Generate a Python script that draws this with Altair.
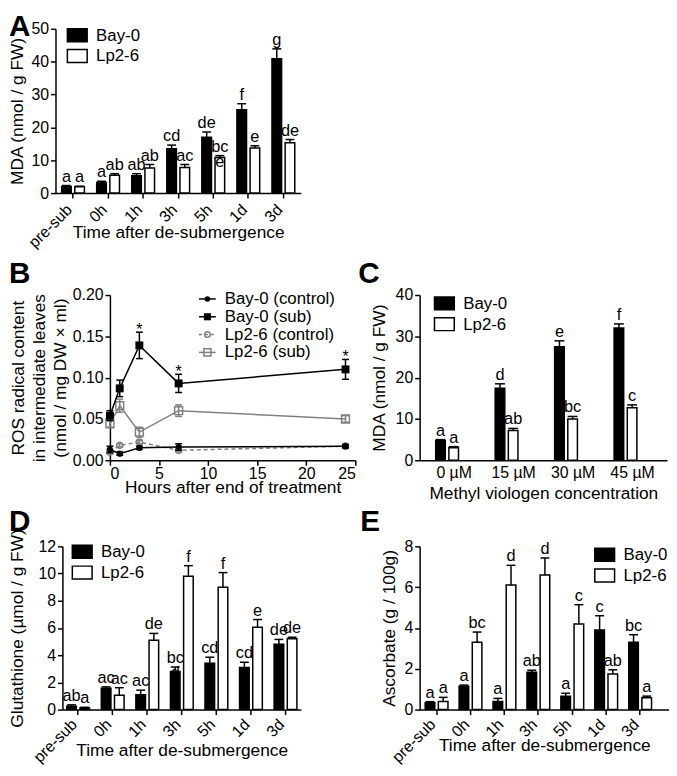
import altair as alt
import pandas as pd

FONT = "Liberation Sans"
GRAY = "#808080"
GENOS = ["Bay-0", "Lp2-6"]

# ---------------- Panel A : MDA after de-submergence ----------------
times = ["pre-sub", "0h", "1h", "3h", "5h", "1d", "3d"]
a_bay = [2.0, 3.2, 5.3, 13.5, 17.0, 25.4, 40.9]
a_bay_err = [0.3, 0.4, 0.6, 1.1, 1.6, 1.8, 3.0]
a_lp = [1.9, 5.4, 7.6, 7.8, 10.8, 13.7, 15.3]
a_lp_err = [0.2, 0.5, 1.1, 0.9, 0.6, 0.7, 1.0]
a_bay_sig = ["a", "a", "ab", "cd", "de", "f", "g"]
a_lp_sig = ["a", "ab", "ab", "ac", "bc\ne", "e", "de"]

# ---------------- Panel B : ROS time course ----------------
hours = [0, 1, 3, 7, 24]
b_bay_ctrl = [0.013, 0.008, 0.015, 0.016, 0.017]
b_bay_ctrl_err = [0.004, 0.002, 0.002, 0.004, 0.002]
b_bay_sub = [0.054, 0.087, 0.139, 0.093, 0.110]
b_bay_sub_err = [0.006, 0.010, 0.016, 0.011, 0.012]
b_lp_ctrl = [0.010, 0.018, 0.022, 0.012, 0.017]
b_lp_ctrl_err = [0.003, 0.002, 0.002, 0.002, 0.002]
b_lp_sub = [0.044, 0.066, 0.034, 0.060, 0.050]
b_lp_sub_err = [0.004, 0.008, 0.006, 0.007, 0.004]
b_star_hours = [3, 7, 24]

# ---------------- Panel C : MDA vs methyl viologen ----------------
mv_conc = ["0 µM", "15 µM", "30 µM", "45 µM"]
c_bay = [4.7, 17.4, 27.5, 32.0]
c_bay_err = [0.3, 1.1, 1.4, 1.0]
c_lp = [3.0, 7.2, 10.0, 12.7]
c_lp_err = [0.3, 0.5, 0.6, 0.7]
c_bay_sig = ["a", "d", "e", "f"]
c_lp_sig = ["a", "ab", "bc", "c"]

# ---------------- Panel D : Glutathione ----------------
d_bay = [0.25, 1.57, 1.1, 2.8, 3.4, 3.1, 4.8]
d_bay_err = [0.1, 0.1, 0.33, 0.33, 0.45, 0.38, 0.36]
d_lp = [0.12, 1.05, 5.1, 9.8, 9.0, 6.05, 5.2]
d_lp_err = [0.05, 0.56, 0.5, 0.78, 1.07, 0.57, 0.12]
d_bay_sig = ["ab", "ac", "ac", "bc\nd", "cd", "cd", "de"]
d_lp_sig = ["a", "ac", "de", "f", "f", "e", "de"]

# ---------------- Panel E : Ascorbate ----------------
e_bay = [0.34, 1.15, 0.4, 1.83, 0.65, 3.9, 3.3]
e_bay_err = [0.05, 0.05, 0.15, 0.1, 0.15, 0.7, 0.37]
e_lp = [0.4, 3.3, 6.1, 6.6, 4.2, 1.75, 0.58]
e_lp_err = [0.2, 0.5, 0.97, 0.83, 0.94, 0.2, 0.08]
e_bay_sig = ["a", "a", "a", "ab", "a", "c", "bc"]
e_lp_sig = ["a", "bc", "d", "d", "c", "ab", "a"]

one = pd.DataFrame({"k": [0]})


def fixed_text(s, x, y, size, align="left", baseline="middle", weight="normal"):
    return alt.Chart(one).mark_text(
        text=s, font=FONT, fontSize=size, fontWeight=weight, align=align,
        baseline=baseline, color="black",
    ).encode(x=alt.value(x), y=alt.value(y))


def fixed_rect(x1, y1, x2, y2, fill):
    return alt.Chart(one).mark_rect(fill=fill, stroke="black", strokeWidth=1.5).encode(
        x=alt.value(x1), x2=alt.value(x2), y=alt.value(y1), y2=alt.value(y2)
    )


def spacer(w, h):
    return alt.Chart(one).mark_point(opacity=0).encode(
        x=alt.value(0), y=alt.value(0)
    ).properties(width=w, height=h)


def bar_panel(cats, bay, bay_err, lp, lp_err, bay_sig, lp_sig, *, width, plot_w, shift,
              height, ymax, ystep, ytitle, ytitle_x, xtitle, xtitle_y, pad_in, pad_out,
              band_align, off_pad, cap, rotated, xticks, label_pad, legend_xy,
              letter, letter_xy):
    rows = []
    for i, c in enumerate(cats):
        rows.append({"cat": c, "geno": GENOS[0], "val": bay[i],
                     "top": bay[i] + bay_err[i], "sig": bay_sig[i]})
        rows.append({"cat": c, "geno": GENOS[1], "val": lp[i],
                     "top": lp[i] + lp_err[i], "sig": lp_sig[i]})
    df = pd.DataFrame(rows)
    if rotated:
        # tick labels are drawn as a rotated text layer below (same band scale)
        xaxis = alt.Axis(title=xtitle, labels=False, ticks=xticks, titleY=xtitle_y,
                         titleBaseline="alphabetic", titleX=shift + plot_w / 2)
    else:
        xaxis = alt.Axis(title=xtitle, labelAngle=0, labelAlign="center",
                         labelBaseline="top", labelPadding=label_pad,
                         ticks=xticks, titleY=xtitle_y, titleBaseline="alphabetic",
                         titleX=shift + plot_w / 2)
    x = alt.X("cat:N", sort=cats,
              scale=alt.Scale(domain=cats, paddingInner=pad_in, paddingOuter=pad_out,
                              align=band_align, range=[shift, shift + plot_w]),
              axis=xaxis)
    xo = alt.XOffset("geno:N", sort=GENOS,
                     scale=alt.Scale(domain=GENOS, paddingInner=off_pad, paddingOuter=0))
    ysc = alt.Scale(domain=[0, ymax], nice=False)
    yaxis = alt.Axis(title=ytitle, values=list(range(0, ymax + 1, ystep)),
                     titleX=ytitle_x, titleBaseline="alphabetic", offset=-shift)

    base = alt.Chart(df).encode(x=x, xOffset=xo)
    bars = base.mark_bar(stroke="black", strokeWidth=1.5).encode(
        y=alt.Y("val:Q", scale=ysc, axis=yaxis),
        fill=alt.Fill("geno:N", scale=alt.Scale(domain=GENOS, range=["black", "white"]),
                      legend=None),
    )
    errs = base.mark_rule(color="black", strokeWidth=1.5).encode(
        y=alt.Y("val:Q", scale=ysc, axis=yaxis), y2="top:Q"
    )
    caps = base.mark_tick(color="black", thickness=1.5, size=cap, orient="horizontal",
                          opacity=1).encode(
        y=alt.Y("top:Q", scale=ysc, axis=yaxis)
    )
    sigs = base.mark_text(font=FONT, fontSize=16.5, color="black", baseline="bottom",
                          dy=-1, lineBreak="\n", lineHeight=15).encode(
        y=alt.Y("top:Q", scale=ysc, axis=yaxis), text="sig:N"
    )
    layers = [bars, errs, caps, sigs]
    if rotated:
        lab_df = pd.DataFrame({"cat": cats})
        layers.append(alt.Chart(lab_df).mark_text(
            angle=315, align="right", baseline="alphabetic", font=FONT, fontSize=16,
            color="black").encode(x=x, y=alt.value(height + label_pad), text="cat:N"))
    lx, ly = legend_xy
    lx += shift
    layers += [
        fixed_rect(lx, ly, lx + 20, ly + 13, "black"),
        fixed_rect(lx, ly + 21, lx + 20, ly + 34, "white"),
        fixed_text(GENOS[0], lx + 29, ly + 7, 17),
        fixed_text(GENOS[1], lx + 29, ly + 28, 17),
    ]
    layers.append(fixed_text(letter, letter_xy[0] + shift, letter_xy[1], 30,
                             baseline="top", weight="bold"))
    return alt.layer(*layers).properties(width=width, height=height)


# ---------------- Panel B ----------------
def series_df(vals, errs):
    return pd.DataFrame({
        "h": hours, "v": vals,
        "lo": [v - e for v, e in zip(vals, errs)],
        "hi": [v + e for v, e in zip(vals, errs)],
    })


bxs = alt.Scale(domain=[0, 25], nice=False)
bxax = alt.Axis(title="Hours after end of treatment", values=[0, 5, 10, 15, 20, 25],
                titleY=33, titleBaseline="alphabetic", labelPadding=0)
bys = alt.Scale(domain=[0, 0.2], nice=False)
byax = alt.Axis(title=["ROS radical content", "in intermediate leaves", "(nmol / mg DW × ml)"],
                values=[0, 0.05, 0.1, 0.15, 0.2], format=".2f", titleX=-87,
                titleBaseline="alphabetic", titleLineHeight=21)
BX = alt.X("h:Q", scale=bxs, axis=bxax)

b_series = [
    ("Lp2-6 (control)", b_lp_ctrl, b_lp_ctrl_err, GRAY, [4, 3], "circle", False, 40),
    ("Lp2-6 (sub)", b_lp_sub, b_lp_sub_err, GRAY, None, "square", False, 64),
    ("Bay-0 (control)", b_bay_ctrl, b_bay_ctrl_err, "black", None, "circle", True, 40),
    ("Bay-0 (sub)", b_bay_sub, b_bay_sub_err, "black", None, "square", True, 64),
]
b_layers = []
for name, vals, errs, col, dash, shape, filled, size in b_series:
    sdf = series_df(vals, errs)
    lkw = {"color": col, "strokeWidth": 1.5}
    if dash:
        lkw["strokeDash"] = dash
    b_layers.append(alt.Chart(sdf).mark_line(**lkw).encode(
        x=BX, y=alt.Y("v:Q", scale=bys, axis=byax)))
    b_layers.append(alt.Chart(sdf).mark_rule(color=col, strokeWidth=1.5).encode(
        x=BX, y=alt.Y("lo:Q", scale=bys, axis=byax), y2="hi:Q"))
    for fld in ["lo", "hi"]:
        b_layers.append(alt.Chart(sdf).mark_tick(color=col, thickness=1.5, size=7,
                                                 orient="horizontal", opacity=1).encode(
            x=BX, y=alt.Y(f"{fld}:Q", scale=bys, axis=byax)))
    b_layers.append(alt.Chart(sdf).mark_point(shape=shape, filled=filled, size=size,
                                              color=col, strokeWidth=1.5, opacity=1).encode(
        x=BX, y=alt.Y("v:Q", scale=bys, axis=byax)))

star_df = pd.DataFrame({
    "h": b_star_hours,
    "top": [b_bay_sub[hours.index(h)] + b_bay_sub_err[hours.index(h)] for h in b_star_hours],
    "s": ["*"] * len(b_star_hours),
})
b_layers.append(alt.Chart(star_df).mark_text(font=FONT, fontSize=16, color="black",
                                             baseline="alphabetic", dy=3).encode(
    x=BX, y=alt.Y("top:Q", scale=bys, axis=byax), text="s:N"))

legend_order = [b_series[2], b_series[3], b_series[0], b_series[1]]
for i, (name, vals, errs, col, dash, shape, filled, size) in enumerate(legend_order):
    yy = 4 + i * 18
    rkw = {"color": col, "strokeWidth": 1.5}
    if dash:
        rkw["strokeDash"] = [3, 3]
    b_layers.append(alt.Chart(one).mark_rule(**rkw).encode(
        x=alt.value(90), x2=alt.value(107), y=alt.value(yy)))
    b_layers.append(alt.Chart(one).mark_point(shape=shape, filled=filled, size=size * 0.8,
                                              color=col, strokeWidth=1.5, opacity=1).encode(
        x=alt.value(98.5), y=alt.value(yy)))
    b_layers.append(fixed_text(name, 116, yy, 17))
b_layers.append(fixed_text("B", -102, -36, 30, baseline="top", weight="bold"))
panel_b = alt.layer(*b_layers).properties(width=248, height=167)

panel_a = bar_panel(times, a_bay, a_bay_err, a_lp, a_lp_err, a_bay_sig, a_lp_sig,
                    width=248, plot_w=248, shift=-55, height=166, ymax=50, ystep=10,
                    ytitle="MDA (nmol / g FW)", ytitle_x=-33,
                    xtitle="Time after de-submergence", xtitle_y=45,
                    pad_in=0.35, pad_out=0.175, band_align=0.5, off_pad=0.27, cap=9,
                    rotated=True, xticks=True, label_pad=18, legend_xy=(12, 0),
                    letter="A", letter_xy=(-47, -17))

panel_c = bar_panel(mv_conc, c_bay, c_bay_err, c_lp, c_lp_err, c_bay_sig, c_lp_sig,
                    width=250, plot_w=250, shift=0, height=167, ymax=40, ystep=10,
                    ytitle="MDA (nmol / g FW)", ytitle_x=-35.5,
                    xtitle="Methyl viologen concentration", xtitle_y=39,
                    pad_in=0.38, pad_out=0.27, band_align=0.5, off_pad=0.24, cap=10,
                    rotated=False, xticks=False, label_pad=4, legend_xy=(15, 2),
                    letter="C", letter_xy=(-62, -36))

panel_d = bar_panel(times, d_bay, d_bay_err, d_lp, d_lp_err, d_bay_sig, d_lp_sig,
                    width=248, plot_w=241, shift=-48, height=165, ymax=12, ystep=2,
                    ytitle="Glutathione (µmol / g FW)", ytitle_x=-40,
                    xtitle="Time after de-submergence", xtitle_y=46.5,
                    pad_in=0.35, pad_out=0.125, band_align=0.5, off_pad=0.25, cap=9,
                    rotated=True, xticks=True, label_pad=16, legend_xy=(10, -1),
                    letter="D", letter_xy=(-54, -39))

panel_e = bar_panel(times, e_bay, e_bay_err, e_lp, e_lp_err, e_bay_sig, e_lp_sig,
                    width=252, plot_w=252, shift=0, height=165, ymax=8, ystep=2,
                    ytitle="Ascorbate (g / 100g)", ytitle_x=-25.5,
                    xtitle="Time after de-submergence", xtitle_y=41.5,
                    pad_in=0.33, pad_out=0.34, band_align=0.24, off_pad=0.25, cap=9,
                    rotated=True, xticks=True, label_pad=16, legend_xy=(177, 2),
                    letter="E", letter_xy=(-60, -39))

chart = alt.concat(
    panel_a, spacer(65, 269), spacer(1, 1),
    panel_b, spacer(65, 1), panel_c,
    spacer(1, 87), spacer(1, 1), spacer(1, 1),
    panel_d, spacer(1, 1), panel_e,
    columns=3, spacing=0, bounds="flush", align="each",
    padding=0,
).configure_view(strokeWidth=0).configure_axis(
    domainColor="black", domainWidth=1.5, tickColor="black", tickWidth=1.5,
    tickSize=5, labelFont=FONT, labelFontSize=16, labelColor="black",
    titleFont=FONT, titleFontSize=17.5, titleFontWeight="normal", titleColor="black",
    grid=False, labelPadding=2,
)

chart.save("out.html", embed_options={"renderer": "svg", "actions": False})
